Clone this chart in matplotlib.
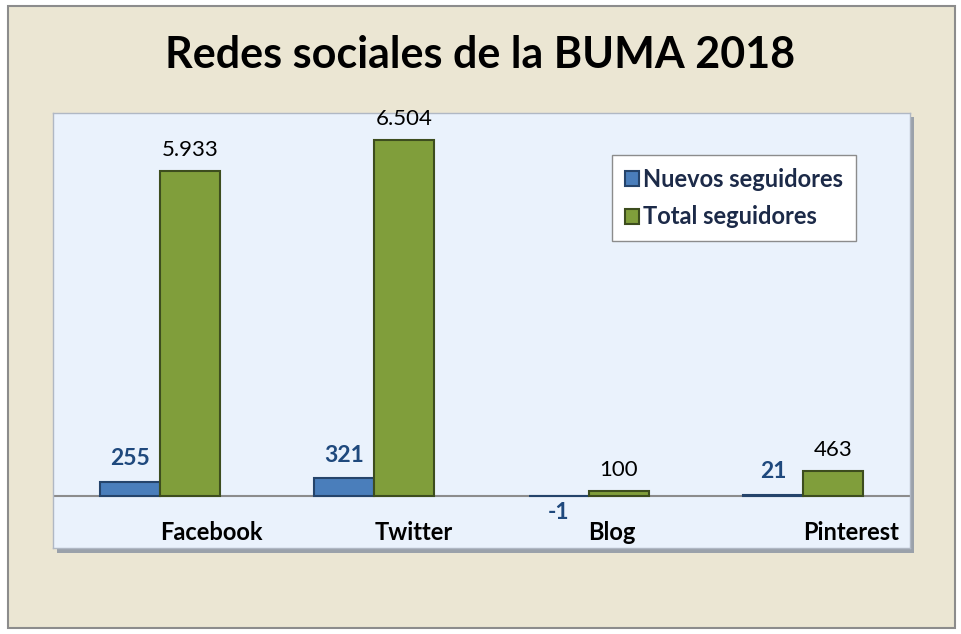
import matplotlib.pyplot as plt
from matplotlib.patches import Rectangle
import numpy as np

categorias = ["Facebook", "Twitter", "Blog", "Pinterest"]
nuevos = [255, 321, -1, 21]
total = [5933, 6504, 100, 463]
etiq_nuevos = ["255", "321", "-1", "21"]
etiq_total = ["5.933", "6.504", "100", "463"]

plt.rcParams['font.family'] = ['Lato', 'DejaVu Sans']

fig = plt.figure(figsize=(9.61, 6.34), dpi=100)
fig.patch.set_facecolor('white')

# marco exterior beige
W, H = 961, 634
marco = Rectangle((8 / W, 6 / H), 947 / W, 622 / H, transform=fig.transFigure,
                  facecolor='#ebe6d3', edgecolor='#8c8c8c', linewidth=1.5, zorder=-2)
fig.patches.append(marco)

# sombra del area de trazado
sombra = Rectangle((57 / W, 81 / H), 857 / W, 436 / H, transform=fig.transFigure,
                   facecolor='#9aa1aa', edgecolor='none', zorder=-1)
fig.patches.append(sombra)

ax = fig.add_axes([53 / W, 86 / H, 857 / W, 435 / H])
ax.set_zorder(2)
ax.set_facecolor('#eaf2fc')
ax.set_xlim(-0.5, 3.5)
ax.set_ylim(-950, 7000)

x = np.arange(len(categorias))
w = 0.28
b1 = ax.bar(x - w / 2, nuevos, w, color='#4a7ebb', edgecolor='#25446b', linewidth=1.5,
            label='Nuevos seguidores', zorder=3)
b2 = ax.bar(x + w / 2, total, w, color='#809e3b', edgecolor='#3d4d1e', linewidth=1.5,
            label='Total seguidores', zorder=3)

ax.axhline(0, color='#8c8c8c', linewidth=1.5, zorder=2)

for i in range(len(categorias)):
    if nuevos[i] >= 0:
        ax.text(x[i] - w / 2, nuevos[i] + 230, etiq_nuevos[i], ha='center', va='bottom',
                fontsize=16.5, fontweight='bold', color='#1f497d')
    else:
        ax.text(x[i] - w / 2 + 0.05, -310, etiq_nuevos[i], ha='right', va='center',
                fontsize=16.5, fontweight='bold', color='#1f497d')
    ax.text(x[i] + w / 2, total[i] + 200, etiq_total[i], ha='center', va='bottom',
            fontsize=16, color='black')
    ax.text(x[i], -660, categorias[i], ha='left', va='center',
            fontsize=17, fontweight='bold', color='black')

ax.set_xticks([])
ax.set_yticks([])
for s in ax.spines.values():
    s.set_color('#b0b8c4')
    s.set_linewidth(1)

leg = ax.legend(loc='upper right', bbox_to_anchor=(0.937, 0.903),
                prop={'weight': 'bold', 'size': 17}, fancybox=False, framealpha=1,
                edgecolor='#8c8c8c', handlelength=0.6, handleheight=0.6,
                handletextpad=0.15, labelspacing=0.6, borderpad=0.55, borderaxespad=0)
for t in leg.get_texts():
    t.set_color('#1c2a48')

fig.text(480 / W, 1 - 55 / H, "Redes sociales de la BUMA 2018", ha='center', va='center',
         fontsize=31, fontweight='bold', color='black')

fig.savefig('out.png', dpi=100, facecolor=fig.get_facecolor())
